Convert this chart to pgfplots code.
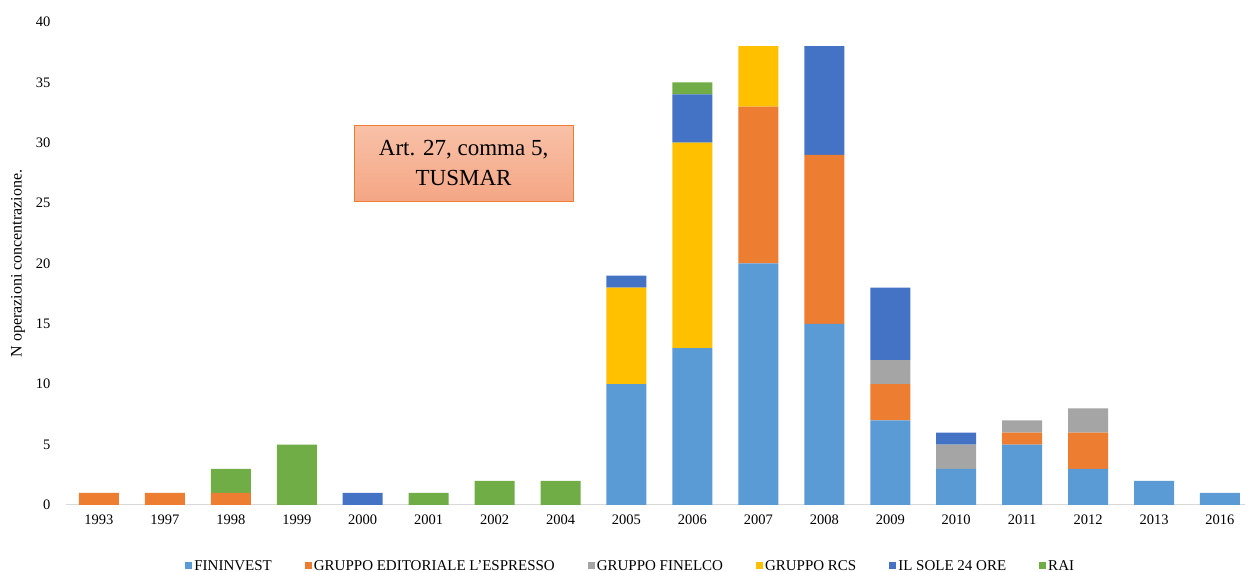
\documentclass[border=0pt]{standalone}
\usepackage{fontspec}
\setmainfont{Liberation Serif}
\usepackage{pgfplots}
\pgfplotsset{compat=1.18}
\usetikzlibrary{shadings}
\definecolor{cFin}{HTML}{5B9BD5}
\definecolor{cEsp}{HTML}{ED7D31}
\definecolor{cFnl}{HTML}{A5A5A5}
\definecolor{cRcs}{HTML}{FFC000}
\definecolor{cSole}{HTML}{4472C4}
\definecolor{cRai}{HTML}{70AD47}
\pgfplotsset{sqlegend/.style={legend image code/.code={\draw[##1,draw=none] (0pt,-3.5pt) rectangle (7pt,3.5pt);}}}
\begin{document}
\begin{tikzpicture}[x=1pt,y=1pt]
\path[use as bounding box] (-66,-67) rectangle (1179,505);
\begin{axis}[
  at={(0,0)}, anchor=south west,
  scale only axis, width=1179pt, height=483pt,
  ybar stacked, bar width=40pt,
  xmin=-0.5, xmax=17.38, ymin=0, ymax=40,
  enlargelimits=false,
  xtick={0,...,17},
  xticklabels={1993,1997,1998,1999,2000,2001,2002,2004,2005,2006,2007,2008,2009,2010,2011,2012,2013,2016},
  ytick={0,5,...,40},
  major tick length=0pt,
  axis y line*=left,
  y axis line style={draw=none},
  axis x line*=bottom,
  x axis line style={draw=black!15, line width=1pt, -},
  /pgf/number format/assume math mode=true,
  ticklabel style={font=\fontsize{14.5}{17}\selectfont},
  yticklabel style={xshift=-12pt},
  xticklabel style={yshift=-6pt},
  ylabel={N operazioni concentrazione.},
  ylabel style={at={(axis description cs:-0.0407,0.5)},anchor=center,rotate=0,font=\fontsize{16}{18}\selectfont},
  sqlegend,
  legend columns=6,
  legend style={at={(0.479,-0.126)}, anchor=center, draw=none,
    font=\fontsize{15}{17}\selectfont,
    /tikz/every even column/.append style={column sep=31pt}},
]
\addplot+[fill=cFin, draw=none] coordinates {(0,0)(1,0)(2,0)(3,0)(4,0)(5,0)(6,0)(7,0)(8,10)(9,13)(10,20)(11,15)(12,7)(13,3)(14,5)(15,3)(16,2)(17,1)};
\addplot+[fill=cEsp, draw=none] coordinates {(0,1)(1,1)(2,1)(3,0)(4,0)(5,0)(6,0)(7,0)(8,0)(9,0)(10,13)(11,14)(12,3)(13,0)(14,1)(15,3)(16,0)(17,0)};
\addplot+[fill=cFnl, draw=none] coordinates {(0,0)(1,0)(2,0)(3,0)(4,0)(5,0)(6,0)(7,0)(8,0)(9,0)(10,0)(11,0)(12,2)(13,2)(14,1)(15,2)(16,0)(17,0)};
\addplot+[fill=cRcs, draw=none] coordinates {(0,0)(1,0)(2,0)(3,0)(4,0)(5,0)(6,0)(7,0)(8,8)(9,17)(10,5)(11,0)(12,0)(13,0)(14,0)(15,0)(16,0)(17,0)};
\addplot+[fill=cSole, draw=none] coordinates {(0,0)(1,0)(2,0)(3,0)(4,1)(5,0)(6,0)(7,0)(8,1)(9,4)(10,0)(11,9)(12,6)(13,1)(14,0)(15,0)(16,0)(17,0)};
\addplot+[fill=cRai, draw=none] coordinates {(0,0)(1,0)(2,2)(3,5)(4,0)(5,1)(6,2)(7,2)(8,0)(9,1)(10,0)(11,0)(12,0)(13,0)(14,0)(15,0)(16,0)(17,0)};
\legend{FININVEST,GRUPPO EDITORIALE L’ESPRESSO,GRUPPO FINELCO,GRUPPO RCS,IL SOLE 24 ORE,RAI}
\node[draw=cEsp, line width=0.8pt, top color={rgb,255:red,248;green,193;blue,168}, bottom color={rgb,255:red,244;green,166;blue,133},
  minimum width=219pt, minimum height=76pt, align=center, font=\fontsize{23}{30}\selectfont]
  at (axis cs:5.53,28.3) {Art. 27, comma 5,\\TUSMAR};
\end{axis}
\end{tikzpicture}
\end{document}
